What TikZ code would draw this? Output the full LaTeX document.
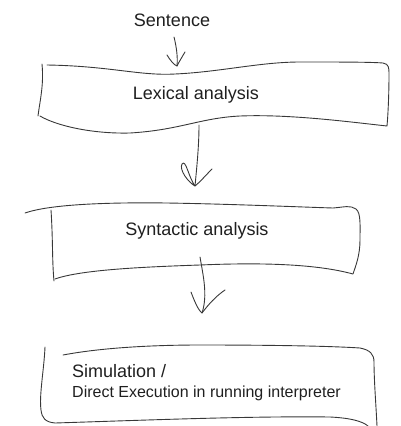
\documentclass[tikz,border=0pt]{standalone}
\usepackage{fontspec}
\setmainfont{Liberation Sans}
\usetikzlibrary{positioning}
\begin{document}
\begin{tikzpicture}[x=1pt,y=-1pt,
  hand/.style={line width=0.9pt,draw=black!78,line cap=round,line join=round},
  stage/.style={font=\fontsize{18}{20}\selectfont,text=black!88,inner sep=0pt,anchor=base},
  stagesmall/.style={font=\fontsize{16}{18}\selectfont,text=black!88,inner sep=0pt,anchor=base west}]
\useasboundingbox (0,0) rectangle (400,426);

% Textos
\node[stage] (sentence) at (172,26.5) {Sentence};
\node[stage] (lexical) at (196,99.5) {Lexical analysis};
\node[stage] (syntactic) at (197,235) {Syntactic analysis};
\node[stage,anchor=base west] (simulation) at (72,377) {Simulation /};
\node[stagesmall] (direct) at (72,397) {Direct Execution in running interpreter};

% Extremos de flechas
\coordinate (s1) at (174,37);  \coordinate (t1) at (177,66);
\coordinate (s2) at (199,125); \coordinate (t2) at (195,186);
\coordinate (s3) at (200,257); \coordinate (t3) at (202,313);

% Caja lexica
\draw[hand] (47,65)
  .. controls (110,66) and (140,76) .. (175,74)
  .. controls (220,72) and (260,62) .. (300,62)
  .. controls (340,62) and (370,62) .. (383,63)
  .. controls (389,64) and (389,68) .. (389,74)
  .. controls (389,95) and (388,115) .. (387,126)
  .. controls (350,122) and (290,114) .. (240,116)
  .. controls (200,118) and (180,130) .. (130,133)
  .. controls (90,134) and (55,125) .. (40,116);
\draw[hand] (42,64) .. controls (44,85) and (40,100) .. (38,116);

% Caja sintactica
\draw[hand] (25,213)
  .. controls (45,206) and (90,202) .. (167,203)
  .. controls (230,204) and (300,207) .. (333,208)
  .. controls (345,207) and (350,205) .. (356,209)
  .. controls (361,213) and (360,225) .. (360,240)
  .. controls (360,255) and (356,265) .. (353,274)
  .. controls (320,265) and (270,262) .. (200,265)
  .. controls (140,267) and (80,270) .. (55,279);
\draw[hand] (51,210) .. controls (53,240) and (52,260) .. (54,281);

% Caja de simulacion
\draw[hand] (63,355)
  .. controls (100,348) and (150,345) .. (200,345)
  .. controls (270,345) and (330,346) .. (360,348)
  .. controls (370,350) and (374,354) .. (374,362)
  .. controls (374,380) and (376,405) .. (377,426);
\draw[hand] (45,347)
  .. controls (44,370) and (39,395) .. (41,410)
  .. controls (42,418) and (45,422) .. (55,423)
  .. controls (150,420) and (250,416) .. (330,417)
  .. controls (350,418) and (362,421) .. (368,426);

% Flechas
\draw[hand] (s1) .. controls (176,45) and (178,56) .. (t1);
\draw[hand] (167,55) .. controls (170,60) and (174,65) .. (t1)
  .. controls (179,62) and (182,57) .. (185,52);

\draw[hand] (s2) .. controls (199,145) and (197,165) .. (t2);
\draw[hand] (t2) .. controls (188,182) and (179,170) .. (182,164)
  .. controls (186,159) and (188,176) .. (t2)
  .. controls (200,182) and (206,175) .. (212,169);

\draw[hand] (s3) .. controls (203,275) and (208,295) .. (t3);
\draw[hand] (191,292) .. controls (194,300) and (198,310) .. (t3)
  .. controls (208,305) and (216,296) .. (225,290);

\end{tikzpicture}
\end{document}
